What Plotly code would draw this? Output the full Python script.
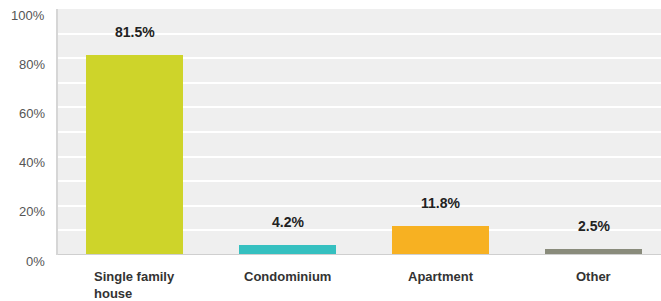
import plotly.graph_objects as go

categories = ["Single family house", "Condominium", "Apartment", "Other"]
tick_text = ["Single family<br>house", "Condominium", "Apartment", "Other"]
values = [81.5, 4.2, 11.8, 2.5]
value_labels = ["81.5%", "4.2%", "11.8%", "2.5%"]
colors = ["#CED42A", "#35C0C0", "#F7B122", "#898B7B"]
y_ticks = [0, 20, 40, 60, 80, 100]
y_tick_labels = ["0%", "20%", "40%", "60%", "80%", "100%"]

fig = go.Figure(go.Bar(
    x=categories, y=values, marker=dict(color=colors, line=dict(width=0)),
    width=0.634, hoverinfo="skip",
))

ann = []
for c, v, t in zip(categories, values, value_labels):
    ann.append(dict(x=c, y=v, text="<b>" + t + "</b>", showarrow=False, yanchor="bottom", yshift=13,
                    font=dict(family="Liberation Sans, Arial", size=14, color="#222222")))
for c, t in zip(categories, tick_text):
    ann.append(dict(x=c, y=0, text="<b>" + t + "</b>", showarrow=False, yanchor="top", yshift=-13,
                    align="left", xanchor="center", borderpad=0,
                    font=dict(family="Liberation Sans, Arial", size=13, color="#333333")))
for v, t in zip(y_ticks, y_tick_labels):
    ann.append(dict(x=0, xref="paper", y=v, text=t, showarrow=False, xanchor="right",
                    yanchor="middle", xshift=-11, yshift=-6,
                    font=dict(family="Liberation Sans, Arial", size=13, color="#555555")))

fig.update_layout(
    width=661, height=301,
    margin=dict(l=58, r=0, t=9, b=46),
    paper_bgcolor="white", plot_bgcolor="#EFEFEF",
    showlegend=False, bargap=0,
    annotations=ann,
    xaxis=dict(range=[-0.5, 3.441], showticklabels=False, showgrid=False, zeroline=False,
               showline=False, fixedrange=True),
    yaxis=dict(range=[0, 100], dtick=10, showticklabels=False, gridcolor="white",
               gridwidth=1.5, zeroline=False, showline=True, linecolor="#D6D6D6",
               linewidth=2, fixedrange=True),
    shapes=[dict(type="line", xref="paper", yref="y", x0=0, x1=1, y0=0, y1=0,
                 line=dict(color="#CFCFCF", width=2))],
)

fig.write_html("out.html", config={"displayModeBar": False},
               post_script="document.body.style.margin='0';")
